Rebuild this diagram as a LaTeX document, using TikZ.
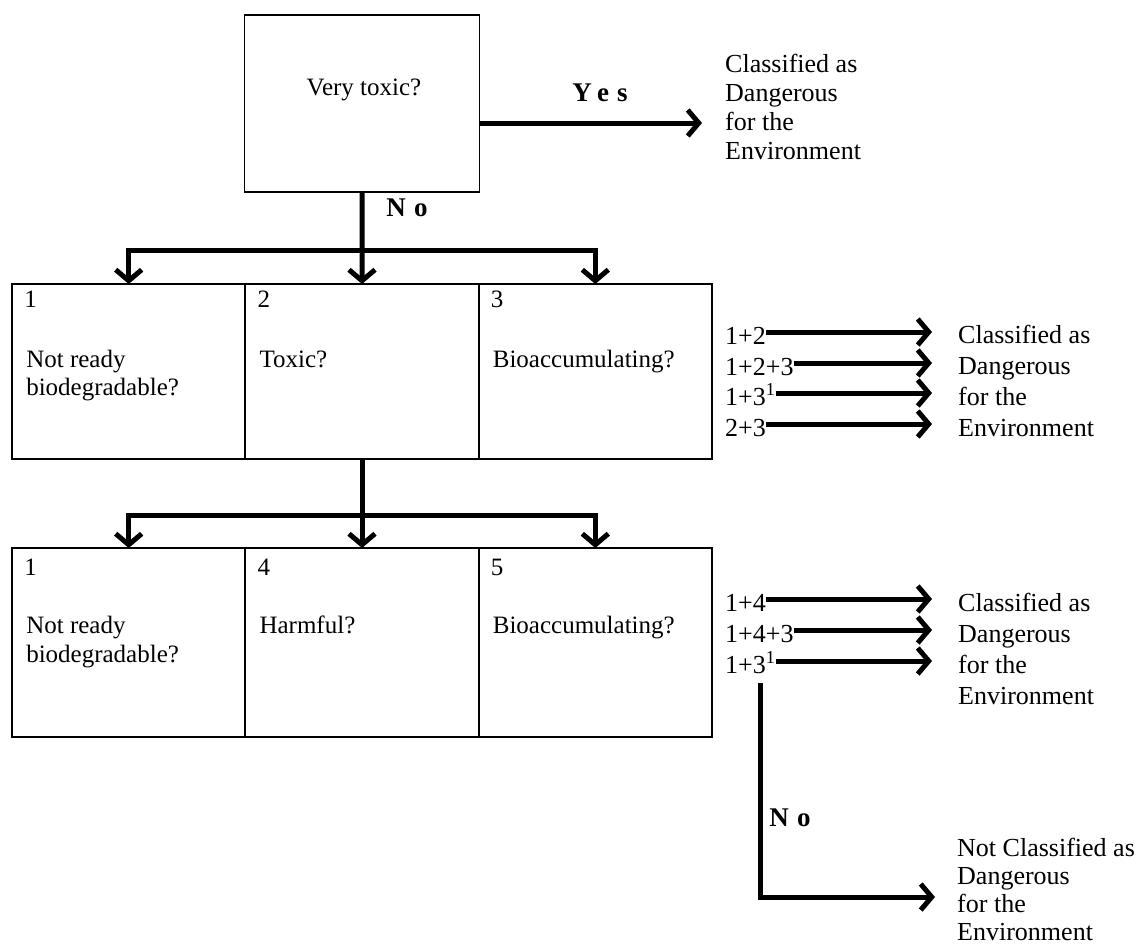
\documentclass[tikz,border=0pt]{standalone}
\usepackage{fontspec}
\setmainfont{Liberation Serif}
\usetikzlibrary{arrows.meta,positioning,calc}

\begin{document}
\begin{tikzpicture}[
    x=1pt, y=-1pt,
    box/.style={draw, line width=1.8pt, outer sep=0pt, inner sep=0pt},
    txt/.style={inner sep=0pt, anchor=base west, align=left,
                font=\fontsize{25}{28}\selectfont},
    sel/.style={inner sep=0pt, anchor=base west, text height=24pt,
                text depth=0pt, font=\fontsize{26}{31}\selectfont},
    res/.style={inner sep=0pt, anchor=base west, align=left,
                font=\fontsize{26}{31}\selectfont},
    ans/.style={inner sep=0pt,
                font=\fontsize{27}{30}\selectfont\bfseries\addfontfeatures{LetterSpace=30}},
    arr/.style={line width=5pt, -{Straight Barb[length=11pt,width=26pt]}}
  ]
  \useasboundingbox (0,0) rectangle (1147,945);
  % Very toxic test (multi-line nodes sit on their last baseline)
  \node[box, minimum width=235pt, minimum height=177pt] (vt) at (362,103.5) {};
  \node[inner sep=0pt, font=\fontsize{25}{28}\selectfont] (vtq) at (364,90) {Very toxic?};
  \coordinate (ytip) at (702,123);
  \draw[arr] (vt.east |- ytip) -- (ytip);
  \node[ans] (yes) at (600,93) {Yes};
  \node[res, font=\fontsize{26}{29}\selectfont] (cls1) at (725,159)
    {Classified as\\Dangerous\\for the\\Environment};
  % Middle row
  \node[box, minimum width=233.3pt, minimum height=175pt] (m1) at (128.7,371.5) {};
  \node[box, minimum width=233.3pt, minimum height=175pt, right=0pt of m1] (m2) {};
  \node[box, minimum width=233.3pt, minimum height=175pt, right=0pt of m2] (m3) {};
  \node[txt] (m1n) at ($(m1.north west)+(12,23)$) {1};
  \node[txt] (m1q) at ($(m1.north west)+(14,111)$) {Not ready\\biodegradable?};
  \node[txt] (m2n) at ($(m2.north west)+(12,23)$) {2};
  \node[txt] (m2q) at ($(m2.north west)+(14,83)$) {Toxic?};
  \node[txt] (m3n) at ($(m3.north west)+(12,23)$) {3};
  \node[txt] (m3q) at ($(m3.north west)+(14,83)$) {Bioaccumulating?};
  % No branch from the top box
  \coordinate (j1) at ($(m2.north)+(0,-34)$);
  \draw[arr] (vt.south) -- (m2.north);
  \draw[arr] (m2.north |- j1) -- (m1.north |- j1) -- (m1.north);
  \draw[arr] (m2.north |- j1) -- (m3.north |- j1) -- (m3.north);
  \node[ans] (no1) at (407,208) {No};
  % Middle results
  \coordinate (mtip) at (932,0);
  \node[sel] (s12) at (725,344) {1+2};
  \node[sel] (s123) at (725,375) {1+2+3};
  \node[sel] (s13) at (725,405) {1+3\textsuperscript{1}};
  \node[sel] (s23) at (725,436) {2+3};
  \foreach \s in {s12,s123,s13,s23}
    \draw[arr] (\s.east) -- (\s.east -| mtip);
  \node[res] (cls2) at (958,436) {Classified as\\Dangerous\\for the\\Environment};
  % Bottom row
  \node[box, minimum width=233.3pt, minimum height=189pt] (b1) at (128.7,642.5) {};
  \node[box, minimum width=233.3pt, minimum height=189pt, right=0pt of b1] (b2) {};
  \node[box, minimum width=233.3pt, minimum height=189pt, right=0pt of b2] (b3) {};
  \node[txt] (b1n) at ($(b1.north west)+(12,27)$) {1};
  \node[txt, font=\fontsize{25}{29}\selectfont] (b1q) at ($(b1.north west)+(14,114)$)
    {Not ready\\biodegradable?};
  \node[txt] (b2n) at ($(b2.north west)+(12,27)$) {4};
  \node[txt] (b2q) at ($(b2.north west)+(14,85)$) {Harmful?};
  \node[txt] (b3n) at ($(b3.north west)+(12,27)$) {5};
  \node[txt] (b3q) at ($(b3.north west)+(14,85)$) {Bioaccumulating?};
  \coordinate (j2) at ($(b2.north)+(0,-33)$);
  \draw[arr] (m2.south) -- (b2.north);
  \draw[arr] (b2.north |- j2) -- (b1.north |- j2) -- (b1.north);
  \draw[arr] (b2.north |- j2) -- (b3.north |- j2) -- (b3.north);
  % Bottom results
  \node[sel] (s14) at (725,611) {1+4};
  \node[sel] (s143) at (725,642) {1+4+3};
  \node[sel] (s13b) at (725,673) {1+3\textsuperscript{1}};
  \foreach \s in {s14,s143,s13b}
    \draw[arr] (\s.east) -- (\s.east -| mtip);
  \node[res] (cls3) at (958,704) {Classified as\\Dangerous\\for the\\Environment};
  % Not classified
  \coordinate (ntip) at (935,897);
  \draw[arr, shorten <=10pt] ([xshift=10pt]s13b.south)
    -- ([xshift=10pt]s13b.south |- ntip) -- (ntip);
  \node[ans] (no2) at (790,818) {No};
  \node[res, font=\fontsize{26}{28}\selectfont] (ncls) at (957,940)
    {Not Classified as\\Dangerous\\for the\\Environment};
\end{tikzpicture}
\end{document}
